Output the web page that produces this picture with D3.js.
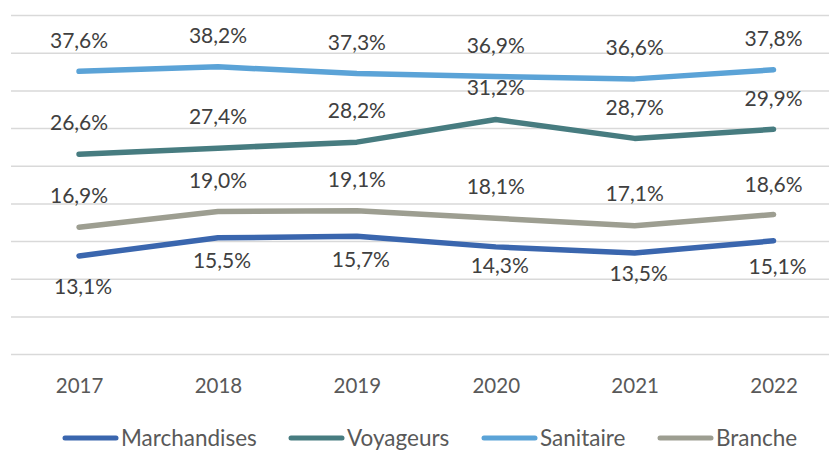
<!DOCTYPE html>
<html>
<head>
<meta charset="utf-8">
<script src="https://cdn.jsdelivr.net/npm/d3@7"></script>
<style>
  body { margin: 0; background: #fff; }
  text { font-family: Lato, "Open Sans", sans-serif; }
</style>
</head>
<body>
<div id="chart"></div>
<script>
const years = ["2017", "2018", "2019", "2020", "2021", "2022"];
const marchandises = [13.1, 15.5, 15.7, 14.3, 13.5, 15.1];
const voyageurs = [26.6, 27.4, 28.2, 31.2, 28.7, 29.9];
const sanitaire = [37.6, 38.2, 37.3, 36.9, 36.6, 37.8];
const branche = [16.9, 19.0, 19.1, 18.1, 17.1, 18.6];
const seriesNames = ["Marchandises", "Voyageurs", "Sanitaire", "Branche"];
const yTicks = [0, 5, 10, 15, 20, 25, 30, 35, 40, 45];

const width = 829, height = 450;

// label offsets (px from the point), as placed in the original
const series = [
  {name: seriesNames[0], values: marchandises, color: "#3A66AE", dx: 4, dy: [31, 23, 23.5, 18.5, 20.5, 25.5]},
  {name: seriesNames[1], values: voyageurs, color: "#477C80", dx: 0, dy: [-31.5, -31.5, -31.5, -31.5, -30.5, -30.5]},
  {name: seriesNames[2], values: sanitaire, color: "#5BA3D7", dx: 0, dy: [-31, -31, -31, -31, -31, -31]},
  {name: seriesNames[3], values: branche, color: "#9D9E91", dx: 0, dy: [-31.5, -31, -31, -32, -32, -30]}
];

const svg = d3.select("#chart")
  .append("svg")
  .attr("width", width)
  .attr("height", height);

const x = d3.scalePoint()
  .domain(years)
  .range([9.6, 843])
  .padding(0.5);

const y = d3.scaleLinear()
  .domain([0, 45])
  .range([354.6, 15.6]);

// horizontal gridlines
svg.append("g")
  .selectAll("line")
  .data(yTicks)
  .enter()
  .append("line")
    .attr("x1", 11)
    .attr("x2", width)
    .attr("y1", d => y(d))
    .attr("y2", d => y(d))
    .style("stroke", "#D9D9D9")
    .style("stroke-width", 1.5);

// year labels
const xAxis = svg.append("g")
  .attr("transform", "translate(0,386)")
  .call(d3.axisBottom(x).tickSize(0).tickPadding(0));
xAxis.select(".domain").remove();
xAxis.selectAll("text")
  .attr("dy", "0.35em")
  .style("font-size", "20.5px")
  .style("font-family", "Lato, sans-serif")
  .style("fill", "#595959");

const line = d3.line()
  .x((d, i) => x(years[i]))
  .y(d => y(d));

svg.append("g")
  .selectAll("path")
  .data(series)
  .enter()
  .append("path")
    .attr("d", d => line(d.values))
    .style("fill", "none")
    .style("stroke", d => d.color)
    .style("stroke-width", 5.5)
    .style("stroke-linecap", "round")
    .style("stroke-linejoin", "round");

// data labels
const labels = svg.append("g");
series.forEach(s => {
  labels.selectAll(null)
    .data(s.values)
    .enter()
    .append("text")
      .attr("x", (d, i) => x(years[i]) + s.dx)
      .attr("y", (d, i) => y(d) + s.dy[i])
      .attr("dy", "0.35em")
      .attr("text-anchor", "middle")
      .style("font-size", "21px")
      .style("fill", "#404040")
      .text(d => d.toFixed(1).replace(".", ",") + "%");
});

// legend
const legendX = [63, 289, 482, 658];
const legend = svg.append("g")
  .selectAll("g")
  .data(series)
  .enter()
  .append("g")
    .attr("transform", (d, i) => "translate(" + legendX[i] + ",438)");
legend.append("line")
  .attr("x1", 2)
  .attr("x2", 53)
  .style("stroke", d => d.color)
  .style("stroke-width", 5)
  .style("stroke-linecap", "round");
legend.append("text")
  .attr("x", 58)
  .attr("dy", "0.35em")
  .style("font-size", "22.5px")
  .style("fill", "#595959")
  .text(d => d.name);
</script>
</body>
</html>
